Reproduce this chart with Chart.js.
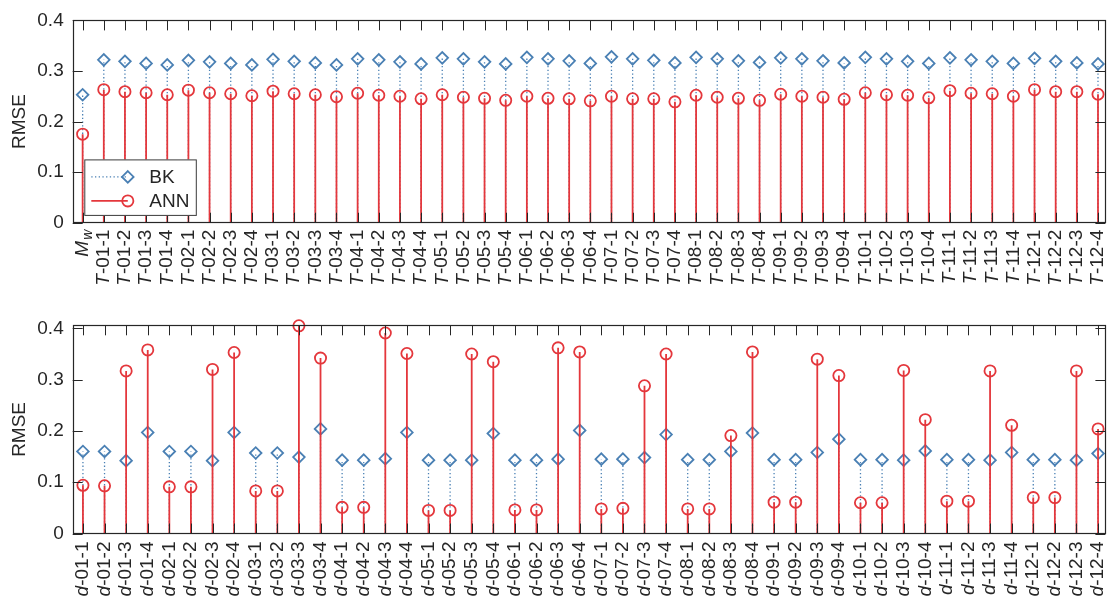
<!DOCTYPE html>
<html>
<head>
<meta charset="utf-8">
<script src="https://cdn.jsdelivr.net/npm/chart.js@4.4.0/dist/chart.umd.min.js"></script>
<style>
  html, body { margin: 0; padding: 0; background: #fff; width: 1113px; height: 603px; overflow: hidden; }
  .panel { position: absolute; left: 0; width: 1113px; }
  #topPanel { top: 0; height: 300px; }
  #bottomPanel { top: 300px; height: 303px; }
</style>
</head>
<body>
<div class="panel" id="topPanel"><canvas id="topChart" width="1113" height="300"></canvas></div>
<div class="panel" id="bottomPanel"><canvas id="bottomChart" width="1113" height="303"></canvas></div>
<script>
// ---- data ----
const topCategories = [
  'M_w',
  'T-01-1','T-01-2','T-01-3','T-01-4',
  'T-02-1','T-02-2','T-02-3','T-02-4',
  'T-03-1','T-03-2','T-03-3','T-03-4',
  'T-04-1','T-04-2','T-04-3','T-04-4',
  'T-05-1','T-05-2','T-05-3','T-05-4',
  'T-06-1','T-06-2','T-06-3','T-06-4',
  'T-07-1','T-07-2','T-07-3','T-07-4',
  'T-08-1','T-08-2','T-08-3','T-08-4',
  'T-09-1','T-09-2','T-09-3','T-09-4',
  'T-10-1','T-10-2','T-10-3','T-10-4',
  'T-11-1','T-11-2','T-11-3','T-11-4',
  'T-12-1','T-12-2','T-12-3','T-12-4'
];
const topBK = [
  0.253,
  0.322, 0.319, 0.315, 0.312,
  0.321, 0.318, 0.315, 0.312,
  0.323, 0.319, 0.316, 0.312,
  0.324, 0.322, 0.318, 0.314,
  0.326, 0.324, 0.318, 0.314,
  0.327, 0.324, 0.320, 0.315,
  0.328, 0.324, 0.321, 0.316,
  0.327, 0.324, 0.320, 0.317,
  0.326, 0.324, 0.320, 0.316,
  0.327, 0.324, 0.319, 0.315,
  0.326, 0.322, 0.319, 0.315,
  0.325, 0.319, 0.316, 0.314
];
const topANN = [
  0.175,
  0.263, 0.259, 0.257, 0.253,
  0.262, 0.257, 0.255, 0.251,
  0.260, 0.255, 0.253, 0.249,
  0.256, 0.252, 0.250, 0.245,
  0.253, 0.248, 0.246, 0.242,
  0.250, 0.246, 0.245, 0.241,
  0.250, 0.245, 0.245, 0.239,
  0.252, 0.248, 0.246, 0.242,
  0.254, 0.250, 0.248, 0.244,
  0.257, 0.253, 0.252, 0.247,
  0.261, 0.256, 0.255, 0.250,
  0.263, 0.259, 0.259, 0.254
];

const bottomCategories = [
  'd-01-1','d-01-2','d-01-3','d-01-4',
  'd-02-1','d-02-2','d-02-3','d-02-4',
  'd-03-1','d-03-2','d-03-3','d-03-4',
  'd-04-1','d-04-2','d-04-3','d-04-4',
  'd-05-1','d-05-2','d-05-3','d-05-4',
  'd-06-1','d-06-2','d-06-3','d-06-4',
  'd-07-1','d-07-2','d-07-3','d-07-4',
  'd-08-1','d-08-2','d-08-3','d-08-4',
  'd-09-1','d-09-2','d-09-3','d-09-4',
  'd-10-1','d-10-2','d-10-3','d-10-4',
  'd-11-1','d-11-2','d-11-3','d-11-4',
  'd-12-1','d-12-2','d-12-3','d-12-4'
];
const bottomBK = [
  0.160, 0.160, 0.142, 0.197,
  0.160, 0.160, 0.142, 0.197,
  0.157, 0.157, 0.149, 0.204,
  0.143, 0.143, 0.146, 0.197,
  0.143, 0.143, 0.143, 0.195,
  0.143, 0.143, 0.145, 0.201,
  0.145, 0.145, 0.148, 0.193,
  0.144, 0.144, 0.160, 0.196,
  0.144, 0.144, 0.158, 0.184,
  0.144, 0.144, 0.143, 0.161,
  0.144, 0.144, 0.143, 0.158,
  0.144, 0.144, 0.143, 0.156
];
const bottomANN = [
  0.094, 0.093, 0.317, 0.358,
  0.091, 0.091, 0.320, 0.353,
  0.083, 0.083, 0.405, 0.342,
  0.051, 0.051, 0.391, 0.351,
  0.045, 0.045, 0.350, 0.335,
  0.046, 0.046, 0.362, 0.354,
  0.048, 0.049, 0.288, 0.350,
  0.048, 0.048, 0.191, 0.354,
  0.061, 0.061, 0.340, 0.308,
  0.060, 0.060, 0.318, 0.222,
  0.063, 0.063, 0.317, 0.211,
  0.070, 0.070, 0.317, 0.204
];

const yTickValues = [0, 0.1, 0.2, 0.3, 0.4];
const seriesNames = ['BK', 'ANN'];

// ---- styling ----
const FONT = '"Liberation Sans", Arial, Helvetica, sans-serif';
const INK = '#262626';
const BLUE = '#4a80b4';
const RED = '#e4373c';
const FONT_SIZE = 19;
const TICK_LEN = 10;

// stem polyline: (i,0) -> (i,v) -> gap, for every category
function stemPoints(values) {
  const pts = [];
  values.forEach((v, i) => {
    pts.push({ x: i, y: 0 }, { x: i, y: v }, { x: i, y: null });
  });
  return pts;
}
function markerPoints(values) {
  return values.map((v, i) => ({ x: i, y: v }));
}

function buildDatasets(bk, ann) {
  return [
    {
      label: seriesNames[0] + ' stem', data: stemPoints(bk), order: 4,
      borderColor: BLUE, borderWidth: 1.3, borderDash: [1.3, 2.4],
      pointRadius: 0, spanGaps: false, fill: false
    },
    {
      label: seriesNames[0], data: markerPoints(bk), order: 3, showLine: false,
      pointStyle: 'rectRot', pointRadius: 5.8, pointBorderWidth: 1.8,
      borderColor: BLUE, pointBorderColor: BLUE, pointBackgroundColor: 'rgba(0,0,0,0)',
      clip: false
    },
    {
      label: seriesNames[1] + ' stem', data: stemPoints(ann), order: 2,
      borderColor: RED, borderWidth: 1.8,
      pointRadius: 0, spanGaps: false, fill: false
    },
    {
      label: seriesNames[1], data: markerPoints(ann), order: 1, showLine: false,
      pointStyle: 'circle', pointRadius: 5.6, pointBorderWidth: 1.8,
      borderColor: RED, pointBorderColor: RED, pointBackgroundColor: 'rgba(0,0,0,0)',
      clip: false
    }
  ];
}

// category label: leading letter italic, subscripted "w" for M_w
function drawCategoryLabel(ctx, text, x, yTop) {
  const upright = FONT_SIZE + 'px ' + FONT;
  const italic = 'italic ' + FONT_SIZE + 'px ' + FONT;
  const subItalic = 'italic ' + Math.round(FONT_SIZE * 0.72) + 'px ' + FONT;
  ctx.save();
  ctx.translate(x, yTop);
  ctx.rotate(-Math.PI / 2);
  ctx.fillStyle = INK;
  ctx.textBaseline = 'middle';
  ctx.textAlign = 'left';
  if (text === 'M_w') {
    ctx.font = italic;
    const wM = ctx.measureText('M').width;
    ctx.font = subItalic;
    const wW = ctx.measureText('w').width;
    const start = -(wM + wW + 1);
    ctx.font = italic;
    ctx.fillText('M', start, 0);
    ctx.font = subItalic;
    ctx.fillText('w', start + wM + 1, 5);
  } else {
    const head = text.charAt(0), rest = text.slice(1);
    ctx.font = italic;
    const wH = ctx.measureText(head).width;
    ctx.font = upright;
    const wR = ctx.measureText(rest).width;
    const start = -(wH + wR);
    ctx.font = italic;
    ctx.fillText(head, start, 0);
    ctx.font = upright;
    ctx.fillText(rest, start + wH, 0);
  }
  ctx.restore();
}

function drawLegend(ctx, area) {
  const left = area.left + 11.6, top = area.top + 139;
  const w = 112.5, h = 56.5;
  ctx.save();
  ctx.fillStyle = '#ffffff';
  ctx.fillRect(left, top, w, h);
  ctx.strokeStyle = '#3a3a3a';
  ctx.lineWidth = 1;
  ctx.strokeRect(left + 0.5, top + 0.5, w - 1, h - 1);

  const rows = [
    { name: seriesNames[0], color: BLUE, dash: [1.3, 2.4], marker: 'diamond', y: top + 17.5 },
    { name: seriesNames[1], color: RED, dash: [], marker: 'circle', y: top + 41.5 }
  ];
  rows.forEach(r => {
    const x0 = left + 7, x1 = left + 43.5;
    ctx.strokeStyle = r.color;
    ctx.lineWidth = r.dash.length ? 1.3 : 1.8;
    ctx.setLineDash(r.dash);
    ctx.beginPath();
    ctx.moveTo(x0, r.y);
    ctx.lineTo(x1, r.y);
    ctx.stroke();
    ctx.setLineDash([]);
    ctx.lineWidth = 1.8;
    ctx.beginPath();
    if (r.marker === 'diamond') {
      ctx.moveTo(x1, r.y - 5.8);
      ctx.lineTo(x1 + 5.8, r.y);
      ctx.lineTo(x1, r.y + 5.8);
      ctx.lineTo(x1 - 5.8, r.y);
      ctx.closePath();
    } else {
      ctx.arc(x1, r.y, 5.6, 0, Math.PI * 2);
    }
    ctx.stroke();
    ctx.fillStyle = INK;
    ctx.font = FONT_SIZE + 'px ' + FONT;
    ctx.textBaseline = 'middle';
    ctx.textAlign = 'left';
    ctx.fillText(r.name, left + 65, r.y + 1);
  });
  ctx.restore();
}

// box, inward tick marks, rotated category labels, optional legend
function frameAndLabels(categories, withLegend, labelGap) {
  return {
    id: 'frameAndLabels',
    afterDatasetsDraw(chart) {
      const { ctx, chartArea: a, scales: { x, y } } = chart;
      ctx.save();
      ctx.strokeStyle = INK;
      ctx.lineWidth = 1;
      ctx.beginPath();
      categories.forEach((c, i) => {
        const px = Math.round(x.getPixelForValue(i)) + 0.5;
        ctx.moveTo(px, a.bottom); ctx.lineTo(px, a.bottom - TICK_LEN);
        ctx.moveTo(px, a.top); ctx.lineTo(px, a.top + TICK_LEN);
      });
      yTickValues.forEach(v => {
        const py = Math.round(y.getPixelForValue(v)) + 0.5;
        ctx.moveTo(a.left, py); ctx.lineTo(a.left + TICK_LEN, py);
        ctx.moveTo(a.right, py); ctx.lineTo(a.right - TICK_LEN, py);
      });
      ctx.stroke();
      ctx.lineWidth = 1.2;
      ctx.strokeRect(Math.round(a.left) + 0.5, Math.round(a.top) + 0.5,
                     Math.round(a.right - a.left) - 1, Math.round(a.bottom - a.top));
      ctx.restore();
      if (withLegend) drawLegend(ctx, a);
    },
    afterDraw(chart) {
      const { ctx, chartArea: a, scales: { x } } = chart;
      categories.forEach((c, i) => {
        drawCategoryLabel(ctx, c, x.getPixelForValue(i), a.bottom + labelGap);
      });
    }
  };
}

function makeChart(canvasId, categories, bk, ann, opts) {
  return new Chart(document.getElementById(canvasId), {
    type: 'line',
    data: { datasets: buildDatasets(bk, ann) },
    options: {
      responsive: false,
      animation: false,
      events: [],
      layout: { padding: { top: opts.padTop, right: 1, left: 0, bottom: 0 } },
      plugins: { legend: { display: false }, tooltip: { enabled: false } },
      scales: {
        x: {
          type: 'linear', min: opts.xMin, max: opts.xMax,
          grid: { display: false, drawTicks: false },
          border: { display: false },
          ticks: { display: false },
          afterFit(s) { s.height = opts.xHeight; }
        },
        y: {
          type: 'linear', min: 0, max: opts.yMax,
          grid: { display: false, drawTicks: false },
          border: { display: false },
          afterBuildTicks(s) { s.ticks = yTickValues.map(v => ({ value: v })); },
          ticks: {
            color: INK, padding: 9,
            font: { family: FONT, size: FONT_SIZE },
            callback: v => (v === 0 ? '0' : v.toFixed(1))
          },
          title: {
            display: true, text: 'RMSE', color: INK,
            font: { family: FONT, size: FONT_SIZE },
            padding: { top: 8, bottom: 0 }
          },
          afterFit(s) { s.width = 72.7; }
        }
      }
    },
    plugins: [frameAndLabels(categories, opts.legend, opts.labelGap)]
  });
}

makeChart('topChart', topCategories, topBK, topANN, {
  padTop: 14.3, xHeight: 77.3, xMin: -0.47, xMax: 48.35, yMax: 0.4, legend: true, labelGap: 7
});
makeChart('bottomChart', bottomCategories, bottomBK, bottomANN, {
  padTop: 25.3, xHeight: 69.5, xMin: -0.474, xMax: 47.34, yMax: 0.406, legend: false, labelGap: 8
});
</script>
</body>
</html>
